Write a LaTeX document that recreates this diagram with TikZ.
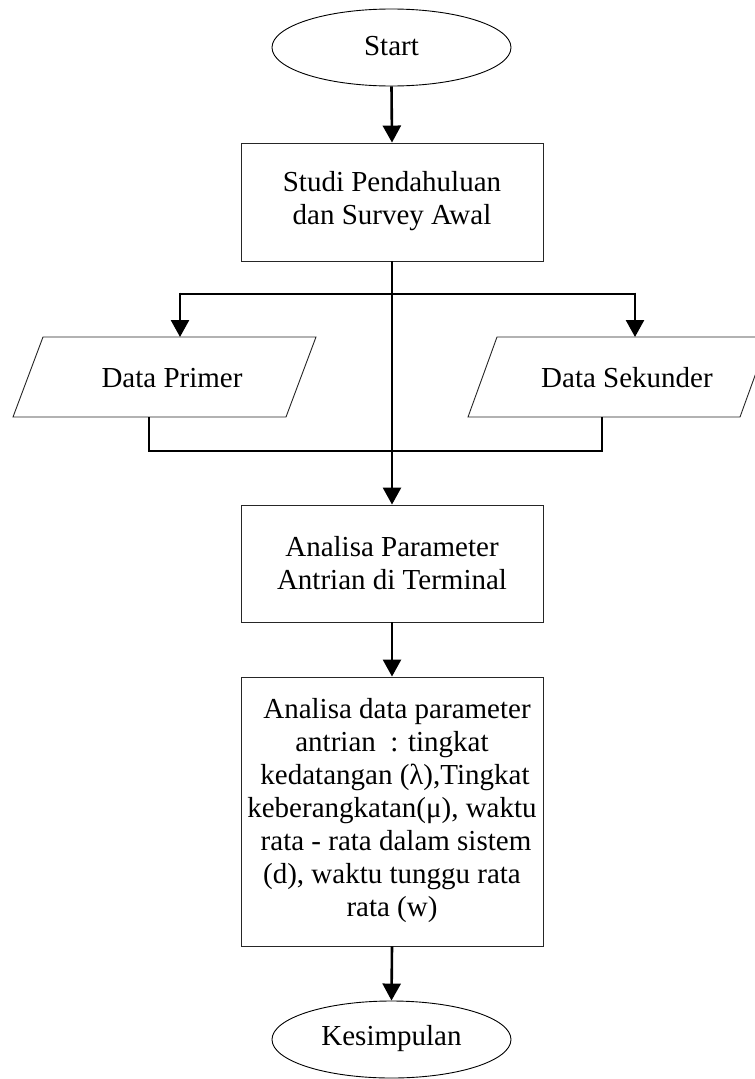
\documentclass[tikz,border=0pt]{standalone}
\usepackage{fontspec}
\setmainfont{Liberation Serif}
\usetikzlibrary{shapes.geometric,arrows.meta}
\begin{document}
\begin{tikzpicture}[x=1pt,y=-1pt,
  box/.style={draw=black!85,line width=0.9pt,minimum width=302pt,inner sep=0pt,align=center},
  oval/.style={ellipse,draw=black,line width=0.9pt,minimum width=239pt,minimum height=77pt,inner sep=0pt},
  conn/.style={line width=2.6pt},
  arr/.style={conn,-{Triangle[width=18pt,length=17pt]}},
  txt/.style={font=\fontsize{29}{33}\selectfont,align=center,inner sep=0pt},
  para/.style={draw=black!85,line width=0.9pt,line join=miter}]
\useasboundingbox (0,0) rectangle (755,1079);
\clip (0,0) rectangle (755,1079);
% nodes
\node[oval] (start) at (391.5,47.5) {};
\node[txt] (starttxt) at (391.5,46) {Start};
\node[box,minimum height=118pt] (studi) at (392,202) {};
\node[txt] (studitxt) at (392,201) {Studi Pendahuluan\\dan Survey Awal};
\draw[para] (43,337) -- (316,337) -- (286,417) -- (13,417) -- cycle;
\node[txt] (primer) at (172,378) {Data Primer};
\draw[para] (497,337) -- (769,337) -- (740,417) -- (468,417) -- cycle;
\node[txt] (sekunder) at (627,378) {Data Sekunder};
\node[box,minimum height=117pt] (param) at (392,563.5) {};
\node[txt] (paramtxt) at (392,563) {Analisa Parameter\\Antrian di Terminal};
\node[box,minimum height=269pt] (data) at (392,811.5) {};
\node[txt] (datatxt) at (392,811) {\hspace*{10pt}Analisa data parameter\\antrian~~: tingkat\\\hspace*{6pt}kedatangan (λ),Tingkat\\keberangkatan(μ), waktu\\\hspace*{8pt}rata - rata dalam sistem\\(d), waktu tunggu rata\\rata (w)};
\node[oval] (end) at (391.5,1039.5) {};
\node[txt] (endtxt) at (391.5,1039) {Kesimpulan};
% coordinates
\coordinate (split) at (391.5,294);
\coordinate (pin) at (180,337);
\coordinate (sin) at (635,337);
\coordinate (pout) at (149,417);
\coordinate (sout) at (602,417);
\coordinate (merge) at (391.5,451);
% connectors
\draw[arr] (start.south) -- (studi.north);
\draw[arr] (studi.south) -- (param.north);
\draw[conn] (split) -- (180,294);
\draw[conn] (split) -- (635,294);
\draw[arr] (180,292.7) -- (pin);
\draw[arr] (635,292.7) -- (sin);
\draw[conn,line join=miter] (pout) |- (merge);
\draw[conn,line join=miter] (sout) |- (merge);
\draw[arr] (param.south) -- (data.north);
\draw[arr] (data.south) -- (end.north);
\end{tikzpicture}
\end{document}
